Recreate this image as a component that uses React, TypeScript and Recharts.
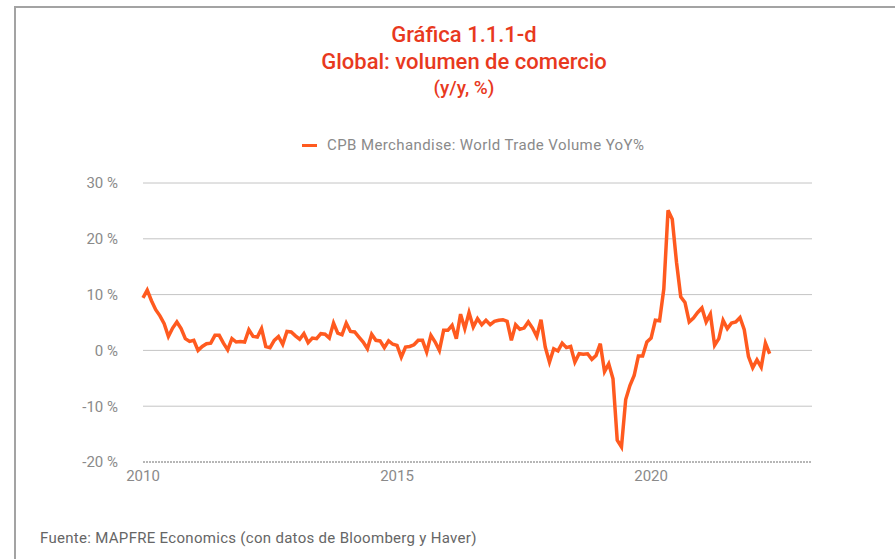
import React from 'react';
import { LineChart, Line, XAxis, YAxis, CartesianGrid } from 'recharts';

// Monthly YoY %, Jan 2010 onwards
const tradeYoY = [
    9.4, 10.8, 8.9, 7.3, 6.2, 4.8, 2.5, 4.0, 5.1, 3.9, 2.1, 1.6,
    1.8, 0.0, 0.7, 1.2, 1.3, 2.7, 2.7, 1.3, 0.1, 2.1, 1.5, 1.6,
    1.5, 3.7, 2.5, 2.4, 3.9, 0.7, 0.5, 1.8, 2.5, 1.1, 3.4, 3.3,
    2.6, 2.0, 3.0, 1.4, 2.2, 2.1, 3.0, 2.9, 2.2, 4.9, 3.1, 2.8,
    4.9, 3.4, 3.3, 2.4, 1.5, 0.3, 2.9, 1.8, 1.7, 0.5, 1.7, 1.1,
    0.9, -1.2, 0.6, 0.7, 1.0, 1.8, 1.8, -0.3, 2.7, 1.5, 0.0, 3.6,
    3.6, 4.5, 2.1, 6.5, 3.9, 6.8, 4.2, 5.7, 4.6, 5.4, 4.6, 5.2,
    5.4, 5.5, 5.2, 1.8, 4.6, 3.8, 4.0, 5.1, 4.0, 2.5, 5.5, 0.6,
    -2.1, 0.3, -0.1, 1.3, 0.5, 0.7, -2.1, -0.6, -0.7, -0.6, -1.6, -0.9,
    1.2, -3.8, -2.4, -5.1, -16.1, -17.3, -8.8, -6.3, -4.5, -1.0, -1.0, 1.5,
    2.2, 5.4, 5.3, 11.0, 25.1, 23.5, 15.8, 9.6, 8.6, 5.1, 5.8, 6.8,
    7.6, 5.1, 6.5, 0.9, 2.1, 5.4, 3.9, 4.9, 5.1, 5.9, 3.7, -1.1,
    -3.1, -1.7, -3.0, 1.3, -0.6,
];

const yearLabels = ['2010', '2015', '2020'];
const yearTicks = [0, 60, 120]; // month index of each January
const yTicks = [-20, -10, 0, 10, 20, 30];
const gridValues = [-10, 0, 10, 20, 30];

const seriesName = 'CPB Merchandise: World Trade Volume YoY%';

const data = tradeYoY.map((v, i) => ({ month: i, value: v }));

const font = 'Roboto, "DejaVu Sans", sans-serif';
const titleColor = '#E8391E';
const lineColor = '#FF5A1F';

export default function App() {
    return (
        <div style={{ position: 'absolute', left: 0, top: 0, width: 895, height: 559, background: '#fff', overflow: 'hidden' }}>
            {/* frame */}
            <div style={{ position: 'absolute', left: 14, top: 6, right: -10, bottom: -10, borderLeft: '2px solid #a3a3a3', borderTop: '2px solid #a3a3a3' }} />

            <div style={{ position: 'absolute', left: 0, top: 21, width: 928, textAlign: 'center', fontFamily: font, color: titleColor, fontWeight: 500 }}>
                <div style={{ fontSize: 22, lineHeight: '27px' }}>Gráfica 1.1.1-d</div>
                <div style={{ fontSize: 22, lineHeight: '27px' }}>Global: volumen de comercio</div>
                <div style={{ fontSize: 19, lineHeight: '25px' }}>(y/y, %)</div>
            </div>

            {/* legend */}
            <div style={{ position: 'absolute', left: 302, top: 135, display: 'flex', alignItems: 'center', fontFamily: font, fontSize: 15, letterSpacing: 0.4, color: '#8a8a8a', lineHeight: '20px' }}>
                <span style={{ display: 'inline-block', width: 15, height: 3, background: lineColor, marginRight: 10 }} />
                <span>{seriesName}</span>
            </div>

            <div style={{ position: 'absolute', left: 0, top: 0 }}>
                <LineChart width={895} height={559} data={data} margin={{ top: 183, right: 83, bottom: 67, left: 83 }}>
                    <CartesianGrid vertical={false} horizontalValues={gridValues} stroke="#c4c4c4" />
                    <XAxis
                        type="number"
                        dataKey="month"
                        domain={[0, 158]}
                        ticks={yearTicks}
                        tickFormatter={(v: number) => yearLabels[yearTicks.indexOf(v)] ?? ''}
                        height={30}
                        tickLine={false}
                        tickSize={0}
                        tickMargin={8}
                        axisLine={{ stroke: '#6e6e6e', strokeDasharray: '2 1' }}
                        tick={{ fontSize: 15, fill: '#8a8a8a', fontFamily: font }}
                    />
                    <YAxis
                        domain={[-20, 30]}
                        ticks={yTicks}
                        tickFormatter={(v: number) => `${v} %`}
                        width={60}
                        axisLine={false}
                        tickLine={false}
                        tickSize={0}
                        tickMargin={25}
                        tick={{ fontSize: 15, fill: '#8a8a8a', fontFamily: font }}
                    />
                    <Line
                        type="linear"
                        dataKey="value"
                        name={seriesName}
                        stroke={lineColor}
                        strokeWidth={3.5}
                        dot={false}
                        isAnimationActive={false}
                    />
                </LineChart>
            </div>

            <div style={{ position: 'absolute', left: 40, top: 529, fontFamily: font, fontSize: 15, letterSpacing: 0.3, color: '#666' }}>
                Fuente: MAPFRE Economics (con datos de Bloomberg y Haver)
            </div>
        </div>
    );
}
